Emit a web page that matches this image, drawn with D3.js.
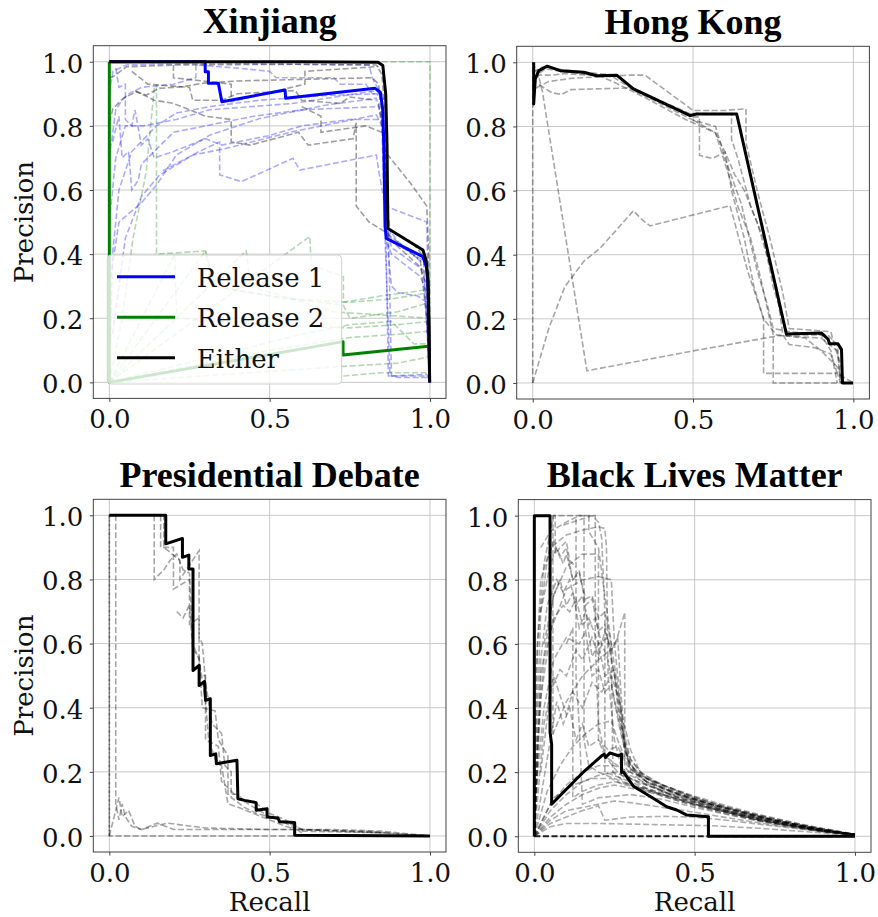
<!DOCTYPE html>
<html><head><meta charset="utf-8">
<script src="https://cdn.jsdelivr.net/npm/d3@7"></script>
<style>body{margin:0;background:#fff}</style>
</head><body>
<svg id="c" width="878" height="917"></svg>
<script>
// ---------------- DATA (recall, precision) ----------------
const titles = ["Xinjiang", "Hong Kong", "Presidential Debate", "Black Lives Matter"];
const xTickValues = [0, 0.5, 1.0];
const xTickLabels = ["0.0", "0.5", "1.0"];
const yTickValues = [0, 0.2, 0.4, 0.6, 0.8, 1.0];
const yTickLabels = ["0.0", "0.2", "0.4", "0.6", "0.8", "1.0"];
const legendLabels = ["Release 1", "Release 2", "Either"];

// Xinjiang
const xjRelease1 = [[0,1],[0.299,1],[0.299,0.969],[0.309,0.969],[0.309,0.933],[0.34,0.933],[0.351,0.875],[0.548,0.912],[0.55,0.886],[0.829,0.917],[0.845,0.905],[0.853,0.85],[0.856,0.74],[0.86,0.485],[0.864,0.449],[0.978,0.392],[0.989,0.36],[0.994,0.298],[0.999,0]];
const xjRelease2 = [[0,1],[0,0],[0.729,0.127],[0.729,0.085],[0.995,0.113]];
const xjEither = [[0,1],[0.6,1],[0.838,0.998],[0.853,0.988],[0.862,0.9],[0.866,0.74],[0.869,0.48],[0.978,0.413],[0.988,0.38],[0.994,0.32],[0.997,0.194],[0.999,0]];
const xjRelease1Runs = [
 [[0,0.9],[0.011,0.97],[0.053,0.99],[0.3,0.995],[0.81,0.99],[0.82,0.95],[0.83,0.93],[0.85,0.9],[0.86,0.6],[0.88,0.44],[0.98,0.38],[1,0]],
 [[0,0],[0.01,0.4],[0.03,0.6],[0.07,0.72],[0.147,0.8],[0.209,0.84],[0.313,0.86],[0.469,0.88],[0.677,0.895],[0.833,0.9],[0.85,0.88],[0.862,0.5],[0.87,0.02],[1,0.02],[1,0]],
 [[0,0.3],[0.03,0.5],[0.1,0.56],[0.147,0.615],[0.209,0.709],[0.313,0.771],[0.469,0.823],[0.677,0.865],[0.833,0.886],[0.855,0.8],[0.865,0.5],[0.88,0.42],[0.98,0.35],[1,0]],
 [[0.01,0.15],[0.05,0.45],[0.1,0.58],[0.157,0.647],[0.261,0.709],[0.365,0.73],[0.573,0.782],[0.833,0.834],[0.85,0.8],[0.86,0.45],[0.88,0.4],[0.97,0.33],[0.99,0.28],[1,0]],
 [[0,0.5],[0.02,0.7],[0.05,0.8],[0.106,0.8],[0.209,0.82],[0.313,0.85],[0.573,0.87],[0.833,0.91],[0.86,0.88],[0.87,0.5],[0.88,0.02],[0.9,0.015],[1,0.015]],
 [[0.167,0.66],[0.28,0.72],[0.344,0.75],[0.344,0.647],[0.412,0.626],[0.573,0.699],[0.594,0.662],[0.781,0.699],[0.833,0.709],[0.84,0.66],[0.86,0.55],[0.99,0.5],[1,0]],
 [[0.02,0.98],[0.03,0.92],[0.05,0.93],[0.05,0.82],[0.07,0.8],[0.08,0.85],[0.1,0.74],[0.12,0.76],[0.14,0.7],[0.2,0.72],[0.3,0.76],[0.35,0.74],[0.5,0.77],[0.6,0.8],[0.75,0.82],[0.84,0.82]],
 [[0,0.7],[0.02,0.85],[0.04,0.88],[0.06,0.9],[0.1,0.92],[0.2,0.93],[0.27,0.95],[0.27,0.99],[0.4,0.98],[0.5,0.97],[0.52,0.95],[0.7,0.95],[0.72,0.93],[0.8,0.93],[0.82,0.9],[0.85,0.9],[0.86,0.6],[0.87,0.48],[0.9,0.44],[0.99,0.36],[1,0]],
 [[0.86,0.62],[0.87,0.4],[0.88,0.3],[0.9,0.28],[0.96,0.27],[0.99,0.25],[1,0]],
 [[0.86,0.45],[0.875,0.03],[0.88,0.02],[0.99,0.025],[1,0]],
 [[0.01,0.75],[0.03,0.83],[0.04,0.7],[0.06,0.72],[0.07,0.6],[0.09,0.63],[0.1,0.68],[0.14,0.72],[0.2,0.78],[0.3,0.8],[0.45,0.83],[0.6,0.85],[0.84,0.86]]
];
const xjRelease2Runs = [
 [[0.85,1],[1,1],[1,0]],
 [[0.147,0.93],[0.147,0.4],[0.3,0.41],[0.32,0.3],[0.5,0.27],[0.73,0.24],[0.75,0.2],[0.9,0.22],[1,0.25]],
 [[0,0],[0.3,0.41],[0.33,0.3],[0.55,0.26],[0.75,0.25],[0.88,0.26],[1,0.28]],
 [[0,0],[0.427,0.41],[0.44,0.3],[0.7,0.22],[0.85,0.21],[1,0.2]],
 [[0,0],[0.625,0.455],[0.63,0.366],[0.73,0.33],[0.73,0.25],[0.85,0.27],[1,0.29]],
 [[0,0],[0.204,0.4],[0.21,0.2],[0.5,0.18],[0.75,0.17],[0.9,0.18],[1,0.19]],
 [[0,0],[0.5,0.1],[0.75,0.14],[0.9,0.15],[1,0.16]],
 [[0,0],[0.73,0.05],[0.9,0.06],[1,0.08]],
 [[0,0],[0.6,0.15],[0.75,0.18],[0.88,0.19],[0.95,0.12],[1,0.12]],
 [[0.73,0.02],[0.85,0.03],[1,0.03]],
 [[0,0],[0.04,0.2],[0.074,0.45],[0.115,0.656],[0.141,0.926]]
];
const xjEitherRuns = [
 [[0,0.95],[0.011,0.953],[0.053,0.984],[0.209,0.99],[0.573,0.992],[0.833,0.99],[0.85,0.96],[0.86,0.85],[0.865,0.6],[0.87,0.48],[0.95,0.43],[0.99,0.38],[1,0]],
 [[0,0.81],[0.011,0.853],[0.043,0.886],[0.084,0.906],[0.115,0.896],[0.156,0.917],[0.229,0.922],[0.292,0.933],[0.4,0.94],[0.6,0.945],[0.82,0.95],[0.84,0.93],[0.86,0.7],[0.87,0.45],[0.97,0.36],[0.99,0.3],[1,0]],
 [[0.2,0.99],[0.2,0.95],[0.38,0.93],[0.38,0.875],[0.61,0.93],[0.61,0.97],[0.84,0.985]],
 [[0.08,0.91],[0.14,0.88],[0.2,0.87],[0.3,0.83],[0.38,0.82],[0.38,0.75],[0.44,0.74],[0.59,0.78],[0.62,0.74],[0.76,0.76],[0.77,0.81],[0.77,0.55],[0.81,0.5],[0.86,0.47],[0.97,0.38],[0.99,0.2],[1,0]],
 [[0.84,0.87],[0.86,0.72],[0.94,0.62],[0.99,0.55],[0.995,0.43],[1,0]],
 [[0.07,0.97],[0.12,0.93],[0.25,0.92],[0.26,0.88],[0.35,0.88],[0.4,0.9],[0.58,0.91],[0.6,0.88],[0.72,0.87],[0.75,0.89],[0.83,0.88]],
 [[0.6,0.86],[0.66,0.83],[0.66,0.78],[0.8,0.8],[0.85,0.78]]
];

// Hong Kong
const hkEither = [[0.003,1],[0.003,0.87],[0.008,0.948],[0.019,0.974],[0.045,0.988],[0.086,0.974],[0.159,0.969],[0.2,0.958],[0.262,0.96],[0.314,0.917],[0.491,0.834],[0.511,0.839],[0.636,0.839],[0.791,0.153],[0.9,0.156],[0.921,0.137],[0.926,0.122],[0.952,0.122],[0.963,0.104],[0.966,0],[0.999,0]];
const hkRuns = [
 [[0,1],[0.02,0.95],[0.03,0.91],[0.169,0.038],[0.5,0.1],[0.77,0.148],[0.9,0.14],[0.95,0.1],[0.96,0],[1,0]],
 [[0,0],[0.05,0.17],[0.1,0.3],[0.16,0.38],[0.21,0.42],[0.314,0.537],[0.34,0.51],[0.366,0.49],[0.615,0.553],[0.63,0.5],[0.67,0.35],[0.72,0.2],[0.76,0.15],[0.85,0.14],[0.9,0.1],[0.95,0.05],[0.97,0]],
 [[0,0],[0,1]],
 [[0,0.93],[0.02,0.96],[0.06,0.96],[0.1,0.965],[0.25,0.955],[0.32,0.91],[0.5,0.82],[0.57,0.8],[0.6,0.7],[0.65,0.56],[0.7,0.35],[0.73,0.25],[0.75,0.17],[0.8,0.16],[0.9,0.15],[0.93,0.1],[0.95,0]],
 [[0.01,0.92],[0.05,0.94],[0.12,0.95],[0.3,0.96],[0.35,0.96],[0.5,0.85],[0.6,0.85],[0.665,0.855],[0.665,0.75],[0.7,0.6],[0.74,0.45],[0.78,0.28],[0.8,0.17],[0.93,0.16],[0.94,0.12],[0.96,0.06],[0.97,0]],
 [[0.02,0.93],[0.06,0.905],[0.09,0.9],[0.12,0.915],[0.3,0.92],[0.35,0.9],[0.5,0.83],[0.52,0.83],[0.52,0.71],[0.56,0.7],[0.6,0.72],[0.62,0.6],[0.66,0.45],[0.69,0.3],[0.72,0.2],[0.72,0.03],[0.8,0.03],[0.9,0.03],[0.95,0.03],[0.96,0]],
 [[0,0.95],[0.04,0.98],[0.1,0.97],[0.2,0.96],[0.25,0.94],[0.35,0.89],[0.48,0.82],[0.57,0.78],[0.62,0.62],[0.64,0.55],[0.68,0.45],[0.71,0.33],[0.75,0.15],[0.75,0],[0.95,0]],
 [[0.5,0.82],[0.57,0.78],[0.6,0.72],[0.63,0.65],[0.66,0.6],[0.7,0.5],[0.73,0.4],[0.76,0.3],[0.78,0.15],[0.8,0.12],[0.88,0.11],[0.93,0.09],[0.95,0.03],[1,0]],
 [[0,0.97],[0.03,0.985],[0.15,0.97],[0.26,0.96],[0.31,0.92],[0.49,0.84],[0.62,0.84],[0.62,0.76],[0.64,0.7],[0.68,0.55],[0.72,0.45],[0.75,0.3],[0.78,0.2],[0.79,0.15],[0.92,0.15],[0.95,0.12],[0.96,0]]
];

// Presidential Debate
const pdEither = [[0,1],[0.176,1],[0.176,0.911],[0.228,0.928],[0.228,0.869],[0.248,0.876],[0.248,0.833],[0.261,0.833],[0.261,0.516],[0.28,0.532],[0.28,0.469],[0.297,0.482],[0.3,0.423],[0.315,0.428],[0.315,0.251],[0.332,0.256],[0.334,0.225],[0.398,0.236],[0.401,0.116],[0.422,0.111],[0.458,0.104],[0.458,0.08],[0.492,0.085],[0.492,0.059],[0.526,0.056],[0.531,0.044],[0.578,0.042],[0.578,0.002],[1,0]];
const pdRuns = [
 [[0,0],[0,1],[0.02,1],[0.02,0.1],[0.03,0.05],[0.04,0.1],[0.05,0.06],[0.07,0.03],[0.1,0.02],[0.15,0.04],[0.2,0.02],[0.5,0.02],[0.6,0.02],[0.85,0.01],[1,0]],
 [[0,1],[0,0],[0.1,0],[0.3,0],[0.58,0],[1,0]],
 [[0,0],[0.03,0.12],[0.04,0.06],[0.06,0.08],[0.08,0.03],[0.1,0.02],[0.18,0.04],[0.3,0.025],[0.5,0.02],[0.6,0.02],[0.8,0.015],[0.87,0.01]],
 [[0.14,1],[0.14,0.8],[0.17,0.83],[0.19,0.86],[0.21,0.88],[0.23,0.83],[0.25,0.82],[0.26,0.6],[0.28,0.55],[0.3,0.42],[0.31,0.3],[0.33,0.24],[0.35,0.22],[0.37,0.1],[0.4,0.09],[0.45,0.07],[0.5,0.05],[0.55,0.03],[0.6,0.015],[0.85,0.01],[1,0]],
 [[0.16,1],[0.16,0.9],[0.2,0.9],[0.2,0.77],[0.25,0.8],[0.25,0.66],[0.28,0.68],[0.28,0.5],[0.3,0.5],[0.3,0.3],[0.34,0.28],[0.35,0.17],[0.4,0.12],[0.45,0.09],[0.5,0.06],[0.56,0.04],[0.6,0.02],[0.85,0.01]],
 [[0.14,1],[0.17,1],[0.17,0.9],[0.22,0.86],[0.22,0.8],[0.28,0.89],[0.28,0.62],[0.29,0.6],[0.3,0.48],[0.32,0.35],[0.35,0.32],[0.36,0.22],[0.38,0.2],[0.38,0.12],[0.42,0.09],[0.46,0.07],[0.52,0.055],[0.55,0.04],[0.6,0.01]],
 [[0.21,0.7],[0.23,0.68],[0.25,0.72],[0.26,0.58],[0.28,0.56],[0.29,0.4],[0.33,0.39],[0.34,0.3],[0.37,0.25],[0.37,0.13],[0.4,0.13],[0.42,0.11],[0.46,0.1],[0.5,0.07],[0.55,0.05],[0.6,0.02],[0.7,0.02],[0.85,0.015],[1,0]]
];

// Black Lives Matter
const blmEither = [[0,0],[0,1],[0.049,1],[0.049,0.324],[0.054,0.288],[0.054,0.1],[0.106,0.153],[0.158,0.205],[0.21,0.251],[0.218,0.256],[0.222,0.246],[0.236,0.26],[0.262,0.251],[0.272,0.256],[0.272,0.199],[0.278,0.2],[0.31,0.155],[0.362,0.124],[0.413,0.092],[0.444,0.082],[0.476,0.066],[0.543,0.061],[0.543,0],[1,0]];
const blmRuns = [
 [[0,0],[0.005,0.5],[0.02,0.8],[0.05,0.9],[0.1,0.94],[0.15,0.955],[0.2,0.965],[0.22,0.96],[0.225,0.9],[0.23,0.5],[0.25,0.3],[0.27,0.22],[0.3,0.18],[0.35,0.15],[0.4,0.13],[0.5,0.1],[0.6,0.075],[0.7,0.05],[0.8,0.033],[0.9,0.017],[1,0.004]],
 [[0,0],[0.01,0.6],[0.03,0.85],[0.06,1],[0.19,1],[0.19,0.6],[0.2,0.35],[0.22,0.25],[0.26,0.2],[0.3,0.17],[0.4,0.125],[0.5,0.095],[0.6,0.07],[0.7,0.048],[0.8,0.03],[0.9,0.015],[1,0.004]],
 [[0,0],[0.02,0.43],[0.05,0.64],[0.1,0.77],[0.15,0.8],[0.2,0.81],[0.24,0.8],[0.25,0.6],[0.27,0.4],[0.28,0.3],[0.3,0.2],[0.35,0.16],[0.45,0.12],[0.55,0.09],[0.65,0.065],[0.75,0.043],[0.85,0.025],[1,0.004]],
 [[0.02,0.7],[0.05,0.85],[0.07,0.9],[0.09,0.85],[0.1,0.88],[0.12,0.8],[0.14,0.82],[0.16,0.74],[0.18,0.75],[0.2,0.68],[0.22,0.7],[0.24,0.6],[0.27,0.4],[0.28,0.28],[0.3,0.21],[0.35,0.17],[0.45,0.13],[0.55,0.1],[0.65,0.075],[0.75,0.05],[0.85,0.03],[1,0.005]],
 [[0,0],[0.01,0.3],[0.03,0.55],[0.06,0.68],[0.09,0.72],[0.11,0.7],[0.13,0.74],[0.15,0.66],[0.17,0.68],[0.2,0.6],[0.23,0.62],[0.25,0.5],[0.27,0.35],[0.29,0.25],[0.32,0.19],[0.4,0.14],[0.5,0.11],[0.6,0.08],[0.7,0.058],[0.8,0.036],[0.9,0.018],[1,0.005]],
 [[0.03,0.6],[0.06,0.75],[0.08,0.8],[0.1,0.72],[0.12,0.76],[0.14,0.65],[0.16,0.7],[0.18,0.56],[0.2,0.6],[0.22,0.5],[0.25,0.52],[0.26,0.4],[0.28,0.3],[0.3,0.24],[0.33,0.2],[0.4,0.155],[0.5,0.115],[0.6,0.085],[0.7,0.06],[0.8,0.04],[0.9,0.02],[1,0.006]],
 [[0.02,0.2],[0.05,0.45],[0.08,0.52],[0.1,0.5],[0.13,0.58],[0.15,0.55],[0.18,0.62],[0.2,0.56],[0.22,0.64],[0.24,0.58],[0.26,0.62],[0.27,0.45],[0.28,0.32],[0.3,0.24],[0.35,0.18],[0.4,0.15],[0.5,0.11],[0.6,0.08],[0.7,0.055],[0.8,0.035],[0.9,0.018],[1,0.005]],
 [[0,0],[0.03,0.35],[0.06,0.5],[0.1,0.38],[0.12,0.45],[0.15,0.4],[0.18,0.48],[0.21,0.45],[0.24,0.5],[0.26,0.44],[0.28,0.35],[0.3,0.27],[0.33,0.2],[0.4,0.16],[0.5,0.12],[0.6,0.09],[0.7,0.065],[0.8,0.042],[0.9,0.022],[1,0.006]],
 [[0.02,0.9],[0.05,0.95],[0.1,0.98],[0.14,1],[0.155,1],[0.155,0.3],[0.17,0.22],[0.2,0.2],[0.25,0.18],[0.3,0.16],[0.4,0.13],[0.5,0.1],[0.6,0.075],[0.7,0.05],[0.8,0.032],[0.9,0.016],[1,0.004]],
 [[0.1,0.6],[0.12,0.65],[0.12,0.12],[0.15,0.14],[0.2,0.16],[0.25,0.17],[0.3,0.16],[0.4,0.13],[0.5,0.1],[0.6,0.075],[0.7,0.052],[0.8,0.034],[0.9,0.017],[1,0.004]],
 [[0,0],[0.02,0.5],[0.06,0.75],[0.1,0.84],[0.15,0.88],[0.2,0.88],[0.2,0.3],[0.22,0.25],[0.26,0.22],[0.3,0.18],[0.35,0.16],[0.45,0.12],[0.55,0.09],[0.65,0.066],[0.75,0.045],[0.85,0.026],[1,0.005]],
 [[0,0],[0.05,0.3],[0.1,0.42],[0.15,0.5],[0.2,0.55],[0.251,0.594],[0.282,0.698],[0.282,0.22],[0.3,0.19],[0.4,0.14],[0.5,0.11],[0.6,0.08],[0.7,0.056],[0.8,0.036],[0.9,0.018],[1,0.005]],
 [[0,0],[0.05,0.06],[0.1,0.1],[0.15,0.13],[0.2,0.15],[0.25,0.16],[0.3,0.15],[0.4,0.13],[0.5,0.1],[0.6,0.075],[0.7,0.052],[0.8,0.033],[0.9,0.016],[1,0.004]],
 [[0,0],[0.05,0.08],[0.1,0.13],[0.15,0.17],[0.2,0.19],[0.25,0.2],[0.3,0.18],[0.35,0.16],[0.45,0.13],[0.55,0.1],[0.65,0.075],[0.75,0.05],[0.85,0.03],[1,0.005]],
 [[0,0],[0.05,0.05],[0.1,0.08],[0.15,0.09],[0.2,0.1],[0.25,0.11],[0.3,0.105],[0.4,0.09],[0.5,0.075],[0.6,0.058],[0.7,0.042],[0.8,0.028],[0.9,0.014],[1,0.004]],
 [[0,0],[0.05,0.03],[0.1,0.04],[0.2,0.04],[0.3,0.038],[0.4,0.036],[0.55,0.033],[0.7,0.025],[0.85,0.014],[1,0.003]],
 [[0,0],[0.05,0.1],[0.1,0.16],[0.15,0.2],[0.2,0.22],[0.25,0.22],[0.3,0.2],[0.4,0.16],[0.5,0.12],[0.6,0.09],[0.7,0.062],[0.8,0.04],[0.9,0.02],[1,0.005]],
 [[0,0],[0.05,0.04],[0.1,0.06],[0.15,0.08],[0.2,0.095],[0.22,0.05],[0.3,0.06],[0.4,0.062],[0.5,0.06],[0.6,0.05],[0.7,0.038],[0.8,0.026],[0.9,0.014],[1,0.004]],
 [[0,0],[0.01,0.4],[0.02,0.7],[0.04,0.86],[0.06,0.92],[0.08,0.87],[0.1,0.9],[0.12,0.8],[0.14,0.83],[0.16,0.72],[0.18,0.74],[0.2,0.64],[0.22,0.66],[0.24,0.55],[0.26,0.45],[0.28,0.3],[0.3,0.22],[0.35,0.17],[0.45,0.13],[0.55,0.1],[0.65,0.072],[0.75,0.05],[0.85,0.03],[1,0.005]],
 [[0.03,1],[0.065,1],[0.065,0.88],[0.08,0.9],[0.1,0.92],[0.11,0.86],[0.13,0.84]],
 [[0.058,1],[0.058,0.32]],
 [[0,0],[0.02,0.55],[0.04,0.72],[0.07,0.8],[0.09,0.76],[0.11,0.8],[0.13,0.72],[0.15,0.75],[0.17,0.66],[0.19,0.68],[0.21,0.6],[0.23,0.55],[0.25,0.42],[0.27,0.32],[0.29,0.24],[0.32,0.2],[0.4,0.15],[0.5,0.115],[0.6,0.085],[0.7,0.06],[0.8,0.038],[0.9,0.019],[1,0.005]],
 [[0,0],[0.01,0.2],[0.03,0.4],[0.06,0.55],[0.1,0.62],[0.14,0.6],[0.16,0.64],[0.18,0.5],[0.2,0.52],[0.22,0.45],[0.24,0.47],[0.26,0.38],[0.28,0.28],[0.3,0.22],[0.35,0.18],[0.45,0.14],[0.55,0.105],[0.65,0.078],[0.75,0.054],[0.85,0.033],[1,0.006]],
 [[0.05,0.3],[0.07,0.42],[0.09,0.35],[0.11,0.4],[0.13,0.3],[0.15,0.35],[0.17,0.28],[0.2,0.3],[0.23,0.27],[0.26,0.28],[0.29,0.22],[0.33,0.19],[0.4,0.16],[0.5,0.125],[0.6,0.095],[0.7,0.068],[0.8,0.045],[0.9,0.024],[1,0.007]],
 [[0.17,1],[0.17,0.95],[0.2,0.9],[0.22,0.75],[0.24,0.6],[0.245,0.2],[0.28,0.17],[0.35,0.14],[0.45,0.11],[0.55,0.085],[0.65,0.062],[0.75,0.042],[0.85,0.024],[1,0.004]],
 [[0.13,0.99],[0.13,0.5],[0.14,0.35],[0.15,0.1],[0.2,0.12],[0.3,0.13],[0.4,0.115],[0.5,0.09],[0.6,0.068],[0.7,0.048],[0.8,0.03],[0.9,0.015],[1,0.004]],
 [[0,0],[0.04,0.14],[0.08,0.22],[0.12,0.28],[0.16,0.32],[0.2,0.35],[0.24,0.36],[0.26,0.3],[0.28,0.25],[0.3,0.21],[0.35,0.17],[0.45,0.135],[0.55,0.1],[0.65,0.075],[0.75,0.05],[0.85,0.03],[1,0.005]],
 [[0.09,0.97],[0.12,0.98],[0.18,1],[0.2,0.98],[0.21,0.93],[0.22,0.7],[0.22,0.2],[0.3,0.17]],
 [[0,0],[0.06,0.12],[0.12,0.16],[0.18,0.18],[0.24,0.18],[0.28,0.16],[0.35,0.15],[0.45,0.12],[0.55,0.092],[0.65,0.068],[0.75,0.047],[0.85,0.028],[1,0.005]]
];
const blmBaseline = [[0,0],[0.3,0],[0.55,0],[1,0]];

// ---------------- DRAWING ----------------
const svg = d3.select("#c");
const SIZE = 352.7;
const layout = [
  {left: 93.3, top: 45.7, ylabel: true, xlabel: false},
  {left: 516.7, top: 46.3, ylabel: false, xlabel: false},
  {left: 93.3, top: 499.3, ylabel: true, xlabel: true},
  {left: 518.3, top: 499.6, ylabel: false, xlabel: true}
];
const tickFont = "'DejaVu Serif', serif";
const titleFont = "'Liberation Serif', 'Times New Roman', serif";

function makePanel(i, drawContent) {
  const L = layout[i];
  const x = d3.scaleLinear().domain([-0.05, 1.05]).range([L.left, L.left + SIZE]);
  const y = d3.scaleLinear().domain([-0.05, 1.05]).range([L.top + SIZE, L.top]);
  const g = svg.append("g");
  const clipId = "clip" + i;
  svg.append("clipPath").attr("id", clipId).append("rect")
    .attr("x", L.left).attr("y", L.top).attr("width", SIZE).attr("height", SIZE);
  const grid = g.append("g");
  xTickValues.forEach(v => grid.append("line").attr("x1", x(v)).attr("x2", x(v))
    .attr("y1", L.top).attr("y2", L.top + SIZE).attr("stroke", "#c8c8c8").attr("stroke-width", 1));
  yTickValues.forEach(v => grid.append("line").attr("y1", y(v)).attr("y2", y(v))
    .attr("x1", L.left).attr("x2", L.left + SIZE).attr("stroke", "#c8c8c8").attr("stroke-width", 1));
  const content = g.append("g").attr("clip-path", `url(#${clipId})`);
  const line = d3.line().x(d => x(d[0])).y(d => y(d[1]));
  drawContent(content, line, x, y);
  g.append("rect").attr("x", L.left).attr("y", L.top).attr("width", SIZE).attr("height", SIZE)
    .attr("fill", "none").attr("stroke", "#444").attr("stroke-width", 1);
  const xa = g.append("g").attr("transform", `translate(0,${L.top + SIZE})`)
    .call(d3.axisBottom(x).tickValues(xTickValues).tickFormat((d, k) => xTickLabels[k]).tickSize(3.5).tickPadding(8));
  const ya = g.append("g").attr("transform", `translate(${L.left},0)`)
    .call(d3.axisLeft(y).tickValues(yTickValues).tickFormat((d, k) => yTickLabels[k]).tickSize(3.5).tickPadding(6.5));
  [xa, ya].forEach(a => {
    a.select(".domain").remove();
    a.selectAll(".tick line").attr("stroke", "#444").attr("stroke-width", 1);
    a.selectAll("text").attr("font-family", tickFont).attr("font-size", 26).attr("fill", "#111");
  });
  ya.selectAll("text").attr("dy", "0.40em");
  g.append("text").attr("x", L.left + SIZE / 2).attr("y", L.top - 12.5)
    .attr("text-anchor", "middle").attr("font-family", titleFont).attr("font-weight", "bold")
    .attr("font-size", 36).attr("fill", "#000").text(titles[i]);
  if (L.ylabel) {
    g.append("text").attr("transform", `translate(${L.left - 60},${L.top + SIZE / 2}) rotate(-90)`)
      .attr("text-anchor", "middle").attr("font-family", tickFont).attr("font-size", 26).attr("fill", "#111").text("Precision");
  }
  if (L.xlabel) {
    g.append("text").attr("x", L.left + SIZE / 2).attr("y", 911)
      .attr("text-anchor", "middle").attr("font-family", tickFont).attr("font-size", 26).attr("fill", "#111").text("Recall");
  }
  return {x, y, g, L};
}

function dashed(sel, line, data, color, op, w) {
  data.forEach(d => sel.append("path").attr("d", line(d)).attr("fill", "none")
    .attr("stroke", color).attr("stroke-opacity", op).attr("stroke-width", w || 1.6)
    .attr("stroke-dasharray", "6,2.6"));
}
function solid(sel, line, d, color, w) {
  sel.append("path").attr("d", line(d)).attr("fill", "none").attr("stroke", color)
    .attr("stroke-width", w || 3).attr("stroke-linejoin", "round");
}

makePanel(0, (c, line) => {
  dashed(c, line, xjRelease2Runs, "#008000", 0.3);
  dashed(c, line, xjRelease1Runs, "#0000ff", 0.33);
  dashed(c, line, xjEitherRuns, "#000", 0.38);
  solid(c, line, xjRelease2, "#008000");
  solid(c, line, xjRelease1, "#0000ff");
  solid(c, line, xjEither, "#000");
});
(function () {
  const lg = svg.append("g");
  lg.append("rect").attr("x", 107.3).attr("y", 255).attr("width", 234.4).attr("height", 129)
    .attr("rx", 4).attr("fill", "#fff").attr("fill-opacity", 0.8).attr("stroke", "#d0d0d0").attr("stroke-width", 1);
  const cols = ["#0000ff", "#008000", "#000"];
  legendLabels.forEach((t, k) => {
    const yy = 276.7 + k * 40.5;
    lg.append("line").attr("x1", 117).attr("x2", 175).attr("y1", yy).attr("y2", yy)
      .attr("stroke", cols[k]).attr("stroke-width", 3);
    lg.append("text").attr("x", 196.7).attr("y", yy + 10).attr("font-family", tickFont)
      .attr("font-size", 26).attr("fill", "#111").text(t);
  });
})();

makePanel(1, (c, line) => {
  dashed(c, line, hkRuns, "#000", 0.35);
  solid(c, line, hkEither, "#000");
});
makePanel(2, (c, line) => {
  dashed(c, line, pdRuns, "#000", 0.35);
  solid(c, line, pdEither, "#000");
});
makePanel(3, (c, line) => {
  dashed(c, line, blmRuns, "#000", 0.32);
  dashed(c, line, [blmBaseline], "#000", 0.85, 2);
  solid(c, line, blmEither, "#000");
});
</script>
</body></html>
